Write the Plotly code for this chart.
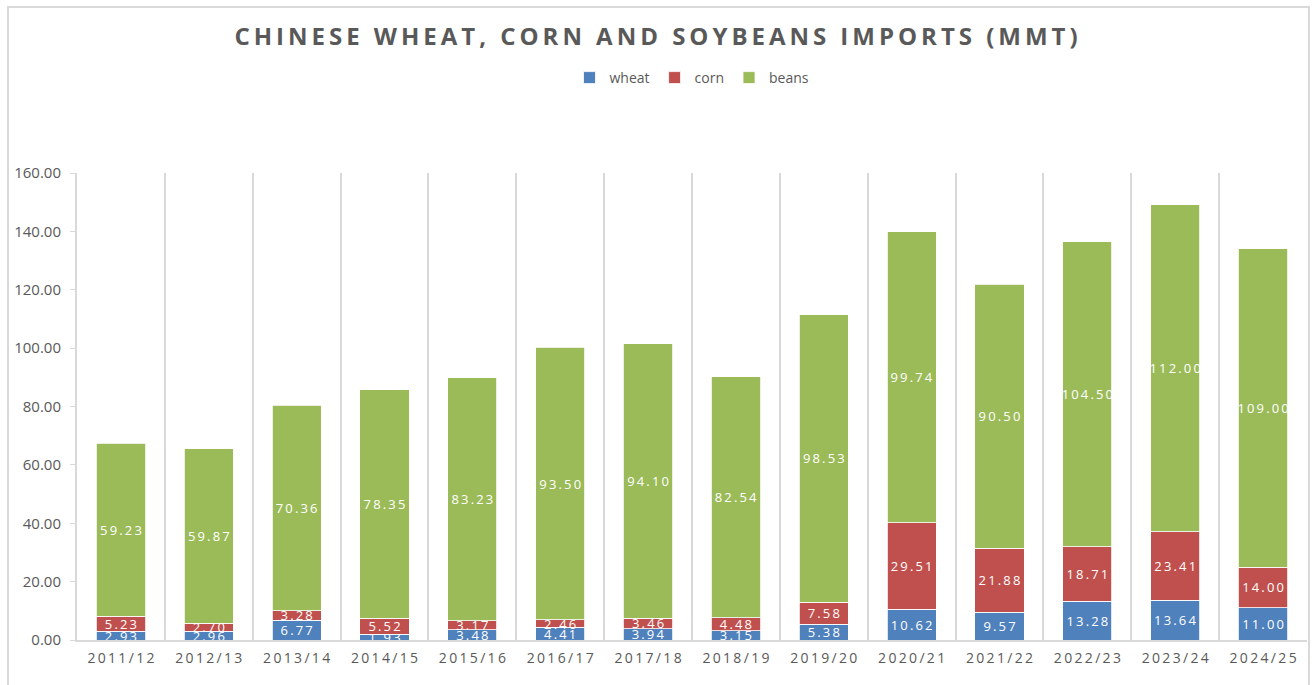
import plotly.graph_objects as go

years = ["2011/12", "2012/13", "2013/14", "2014/15", "2015/16", "2016/17", "2017/18",
         "2018/19", "2019/20", "2020/21", "2021/22", "2022/23", "2023/24", "2024/25"]
wheat = [2.93, 2.96, 6.77, 1.93, 3.48, 4.41, 3.94, 3.15, 5.38, 10.62, 9.57, 13.28, 13.64, 11.00]
corn = [5.23, 2.70, 3.28, 5.52, 3.17, 2.46, 3.46, 4.48, 7.58, 29.51, 21.88, 18.71, 23.41, 14.00]
beans = [59.23, 59.87, 70.36, 78.35, 83.23, 93.50, 94.10, 82.54, 98.53, 99.74, 90.50, 104.50, 112.00, 109.00]
y_ticks = [0, 20, 40, 60, 80, 100, 120, 140, 160]

SP = "\u2009"
def spaced(s):
    return SP.join(list(s))

cats = [spaced(y) for y in years]
FONT = "Open Sans"
GRAY = "#595959"

fig = go.Figure()
for name, vals, color in [("wheat", wheat, "#4F81BD"), ("corn", corn, "#C0504D"), ("beans", beans, "#9BBB59")]:
    fig.add_trace(go.Bar(
        x=cats, y=vals, name=name,
        marker=dict(color=color, line=dict(color="white", width=0.8)),
        text=[spaced(f"{v:.2f}") for v in vals],
        textposition="inside", insidetextanchor="middle", textangle=0,
        textfont=dict(color="white", size=13, family=FONT),
        hoverinfo="x+y+name",
    ))

fig.update_layout(
    barmode="stack", bargap=0.44,
    width=1312, height=685,
    margin=dict(l=77, r=5, t=173, b=45),
    paper_bgcolor="white", plot_bgcolor="white",
    font=dict(family=FONT, color=GRAY, size=13),
    uniformtext=dict(minsize=13, mode="show"),
    title=dict(text=SP.join(list("CHINESE WHEAT, CORN AND SOYBEANS IMPORTS (MMT)")),
               x=0.5, xanchor="center", y=1 - 37 / 685, yanchor="middle",
               font=dict(family=FONT, size=24, color=GRAY, weight="bold")),
    legend=dict(orientation="h", x=0.5, xanchor="center", y=(640 - 78) / 467, yanchor="middle",
                font=dict(size=14, color=GRAY), itemwidth=30, traceorder="normal"),
    xaxis=dict(tickson="boundaries", showgrid=True, gridcolor="#D9D9D9", gridwidth=2,
               showline=True, linecolor="#D9D9D9", linewidth=2, ticks="",
               tickfont=dict(size=14, color=GRAY), ticklabelstandoff=4, fixedrange=True),
    yaxis=dict(range=[0, 160], tickvals=y_ticks, tickformat=".2f", showgrid=False,
               showline=True, linecolor="#D9D9D9", linewidth=2, ticks="outside",
               ticklen=5, tickcolor="#D9D9D9", tickfont=dict(size=15, color=GRAY),
               ticklabelstandoff=6, zeroline=False),
)
fig.add_shape(type="rect", xref="paper", yref="paper",
              x0=(8 - 77) / 1230, x1=(1309 - 77) / 1230,
              y0=(640 - 700) / 467, y1=(640 - 7) / 467,
              line=dict(color="#D9D9D9", width=2), fillcolor="rgba(0,0,0,0)", layer="below")

fig.write_html("out.html")
